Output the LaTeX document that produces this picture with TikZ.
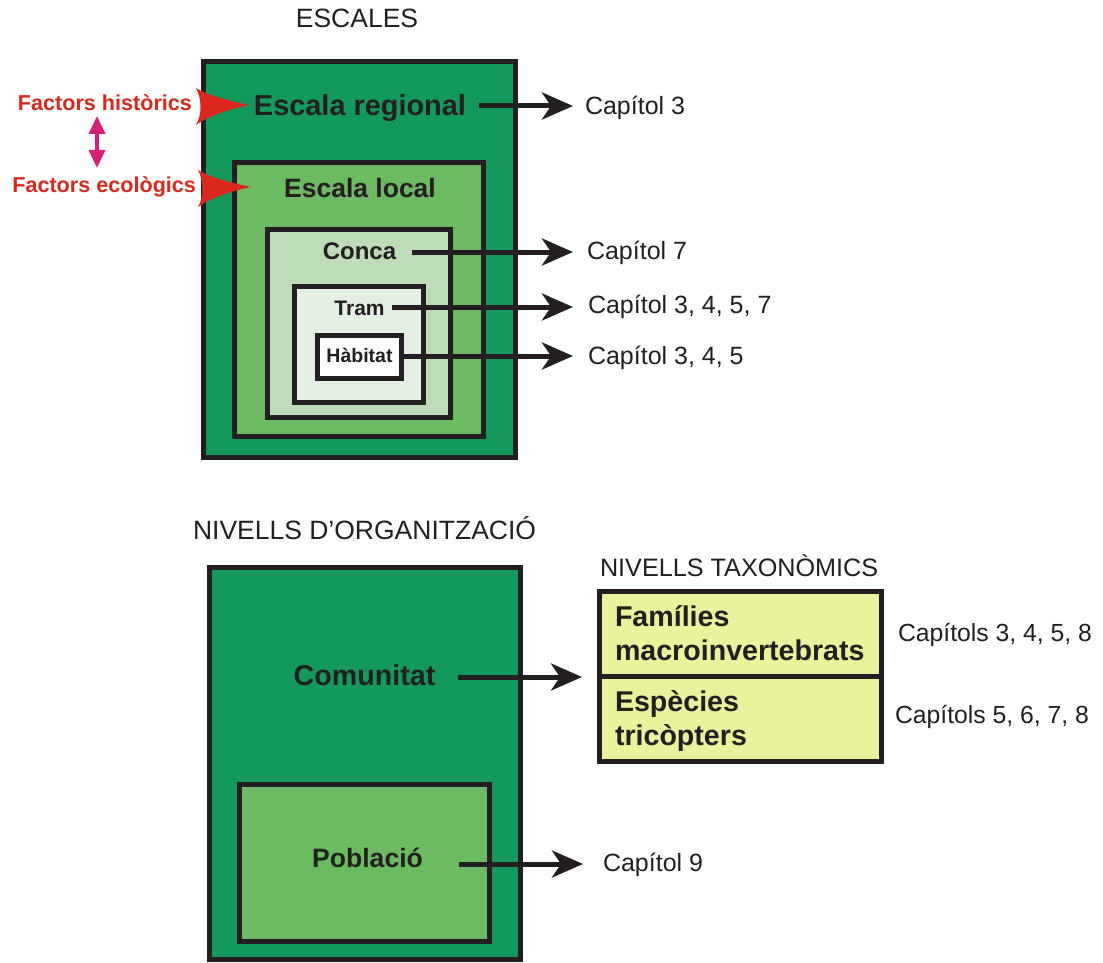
\documentclass[tikz,border=0pt]{standalone}
\usepackage{fontspec}
\setmainfont{Liberation Sans}
\usetikzlibrary{arrows.meta}
\definecolor{gDark}{HTML}{14995C}
\definecolor{gMid}{HTML}{6CBA62}
\definecolor{gPale}{HTML}{BCDDB6}
\definecolor{gFaint}{HTML}{E4F0E4}
\definecolor{taxYellow}{HTML}{EAF29B}
\definecolor{ink}{HTML}{231F20}
\definecolor{factorRed}{HTML}{DA281E}
\definecolor{linkMagenta}{HTML}{DA1E78}
\newcommand\fsz[1]{\fontsize{#1}{#1}\selectfont}
\tikzset{
  x=1pt, y=1pt,
  box/.style={draw=ink, line width=5pt, rectangle, inner sep=0pt, outer sep=0pt},
  lbl/.style={inner sep=0pt, outer sep=0pt, text=ink},
  blbl/.style={lbl, font=\bfseries},
  arr/.style={draw=ink, line width=5pt, -{Stealth[length=31pt,width=27pt,inset=9pt]}},
  twoway/.style={draw=linkMagenta, line width=3.5pt,
    {Triangle[length=18pt,width=16pt]}-{Triangle[length=18pt,width=16pt]}},
  redhead/.pic={
    \fill[factorRed] (0,0) .. controls (-24,5) and (-44,11) .. (-53,17)
      .. controls (-47,6) and (-47,-10) .. (-53,-20)
      .. controls (-44,-13) and (-24,-5) .. cycle;
  }
}
\begin{document}
\begin{tikzpicture}
\useasboundingbox (0,0) rectangle (1103,-963);

% ---------- ESCALES ----------
\node[lbl, anchor=base, font=\fsz{26.5}] (tEscales) at (357,-28) {ESCALES};

\node[box, fill=gDark,  minimum width=312, minimum height=396] (regbox)   at (359.5,-259.5) {};
\node[box, fill=gMid,   minimum width=249, minimum height=274] (localbox) at (359,-299.5) {};
\node[box, fill=gPale,  minimum width=183, minimum height=188] (concabox) at (359,-323.5) {};
\node[box, fill=gFaint, minimum width=129, minimum height=116] (trambox)  at (359,-344.5) {};
\node[box, fill=white,  minimum width=84,  minimum height=43]  (habbox)   at (359.5,-356.5) {};

\node[blbl, anchor=base, font=\bfseries\fsz{28.9}] (treg)   at (360,-116)   {Escala regional};
\node[blbl, anchor=base, font=\bfseries\fsz{26.5}] (tlocal) at (360,-197.5) {Escala local};
\node[blbl, anchor=base, font=\bfseries\fsz{24}]   (tconca) at (359.5,-259) {Conca};
\node[blbl, anchor=base, font=\bfseries\fsz{21}]   (ttram)  at (359.5,-315) {Tram};
\node[blbl, anchor=base, font=\bfseries\fsz{19.5}] (thab)   at (359.5,-362) {Hàbitat};

\node[lbl, anchor=base west, font=\fsz{25}] (cap3)    at (585,-115) {Capítol 3};
\node[lbl, anchor=base west, font=\fsz{25}] (cap7)    at (587,-259) {Capítol 7};
\node[lbl, anchor=base west, font=\fsz{25}] (cap3457) at (588,-313) {Capítol 3, 4, 5, 7};
\node[lbl, anchor=base west, font=\fsz{25}] (cap345)  at (588,-364) {Capítol 3, 4, 5};

\draw[arr] ([shift={(13,10)}]treg.base east) coordinate (sReg)
  -- ([xshift=-12]sReg -| cap3.west);
\draw[arr] ([shift={(16,7)}]tconca.base east) coordinate (sConca)
  -- ([xshift=-14]sConca -| cap7.west);
\draw[arr] ([shift={(7,8)}]ttram.base east) coordinate (sTram)
  -- ([xshift=-15]sTram -| cap3457.west);
\draw[arr] ([shift={(6,6)}]thab.base east) coordinate (sHab)
  -- ([xshift=-15]sHab -| cap345.west);

% driving factors
\node[lbl, anchor=base east, text=factorRed, font=\bfseries\fsz{21.6}] (thist) at (192,-111) {Factors històrics};
\node[lbl, anchor=base east, text=factorRed, font=\bfseries\fsz{21.6}] (tecol) at (196,-192) {Factors ecològics};
\pic at (249,-105) {redhead};
\pic at (251,-187) {redhead};
\coordinate (mTop) at (97,-116);
\coordinate (mBot) at (97,-168);
\draw[twoway] (mTop) -- (mBot);

% ---------- NIVELLS D'ORGANITZACIO ----------
\node[lbl, anchor=base west, font=\fsz{26.5}] (tNivells) at (193,-539) {NIVELLS D’ORGANITZACIÓ};

\node[box, fill=gDark, minimum width=311.5, minimum height=392]   (combox) at (364.75,-763) {};
\node[box, fill=gMid,  minimum width=250,   minimum height=156.5] (popbox) at (364.5,-862.75) {};

\node[blbl, anchor=base, font=\bfseries\fsz{28.7}] (tcom) at (364.5,-685) {Comunitat};
\node[blbl, anchor=base, font=\bfseries\fsz{26.6}] (tpop) at (367.5,-867) {Població};

\node[lbl, anchor=base west, font=\fsz{25.2}] (ttax) at (600,-576) {NIVELLS TAXONÒMICS};
\node[box, fill=taxYellow, minimum width=281.5, minimum height=85] (famcell) at (740.25,-634) {};
\node[box, fill=taxYellow, minimum width=281.5, minimum height=85] (espcell) at (740.25,-719) {};
% the base of a two-line label is the baseline of its last line
\node[blbl, anchor=base west, align=left, font=\bfseries\fontsize{28.6}{33.5}\selectfont] (tfam) at (615,-660) {Famílies\\macroinvertebrats};
\node[blbl, anchor=base west, align=left, font=\bfseries\fontsize{28.6}{33.5}\selectfont] (tesp) at (615,-745) {Espècies\\tricòpters};

\node[lbl, anchor=base west, font=\fsz{24.75}] (capsA) at (898,-641) {Capítols 3, 4, 5, 8};
\node[lbl, anchor=base west, font=\fsz{24.75}] (capsB) at (895,-723) {Capítols 5, 6, 7, 8};
\node[lbl, anchor=base west, font=\fsz{25}]    (cap9)  at (603,-871) {Capítol 9};

\draw[arr] ([shift={(23,8)}]tcom.base east) coordinate (sCom)
  -- ([xshift=-17.5]sCom -| famcell.west);
\draw[arr] ([shift={(36,3)}]tpop.base east) coordinate (sPop)
  -- ([xshift=-20]sPop -| cap9.west);
\end{tikzpicture}
\end{document}
